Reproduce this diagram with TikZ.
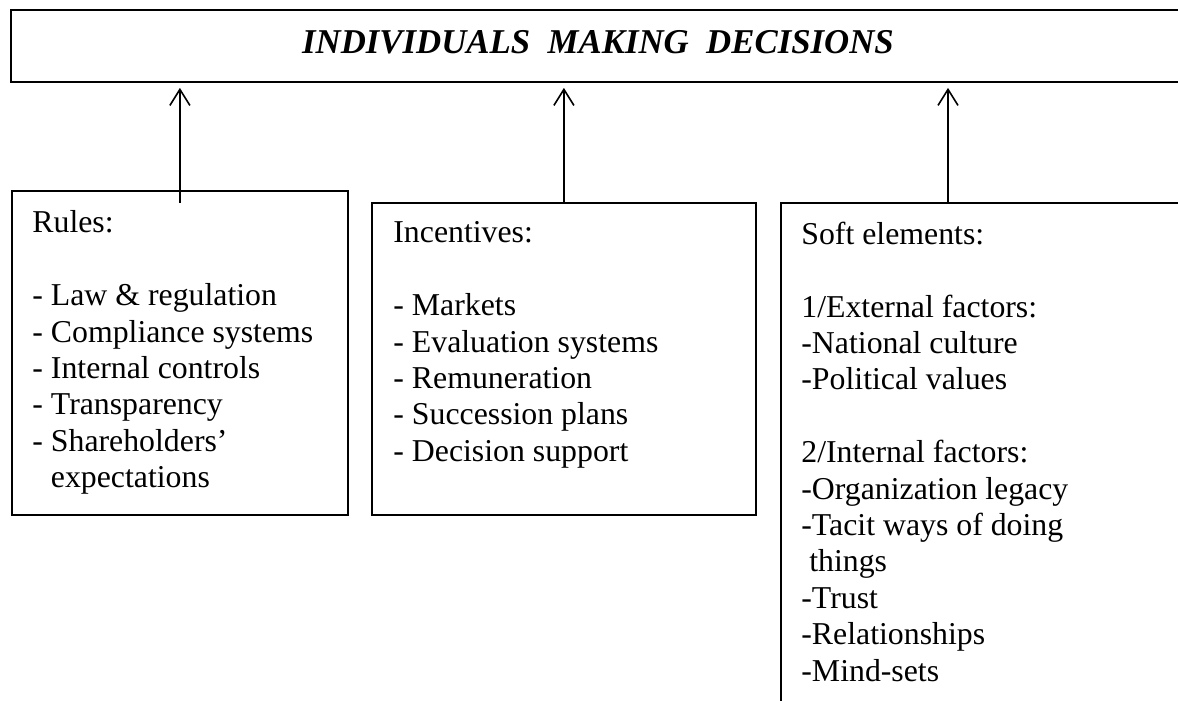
\documentclass[tikz,border=0pt]{standalone}
\usepackage{fontspec}
\setmainfont{Liberation Serif}
\usetikzlibrary{arrows.meta, positioning, calc}

\tikzset{
  frame/.style={draw, line width=0.9pt, inner sep=0pt},
  items/.style={align=left, inner sep=0pt, anchor=north west, font=\fontsize{15.9}{18.2}\selectfont},
  uparrow/.style={-{Straight Barb[length=8pt, width=10pt]}, line width=0.8pt, shorten >=2.5pt},
}

\begin{document}
\begin{tikzpicture}[x=0.5pt, y=-0.5pt]
  \useasboundingbox (0,0) rectangle (1178,701);
  \clip (0,0) rectangle (1178,701);

  % top box (runs past the right edge)
  \node[frame, minimum width=587pt, minimum height=36pt] (title) at (598,46) {};
  \node[anchor=base, inner sep=0pt, font=\fontsize{17.4}{20}\selectfont\bfseries\itshape] (headline) at (598,54) {INDIVIDUALS\ \ MAKING\ \ DECISIONS};

  % the three boxes below
  \node[frame, anchor=north west, minimum width=168pt, minimum height=162pt] (rules) at (11,190) {};
  \node[frame, anchor=north west, minimum width=192pt, minimum height=156pt] (incent) at (371,202) {};
  \node[frame, anchor=north west, minimum width=220pt, minimum height=260pt] (soft) at (780,202) {};

  % list texts, top of first line about 22px above its baseline
  \node[items] (rulestext) at (32,210.5) {Rules:\\[18.2pt]
    - Law \& regulation\\
    - Compliance systems\\
    - Internal controls\\
    - Transparency\\
    - Shareholders'\\
    \phantom{-}~expectations};

  \node[items] (incenttext) at (393,221.5) {Incentives:\\[18.2pt]
    - Markets\\
    - Evaluation systems\\
    - Remuneration\\
    - Succession plans\\
    - Decision support};

  \node[items] (softtext) at (801,221.5) {Soft elements:\\[18.2pt]
    1/External factors:\\
    -National culture\\
    -Political values\\[18.2pt]
    2/Internal factors:\\
    -Organization legacy\\
    -Tacit ways of doing\\
    \hspace*{0.25em}things\\
    -Trust\\
    -Relationships\\
    -Mind-sets};

  % arrows up into the top box
  \coordinate (softin) at (948,202);
  \draw[uparrow] ([yshift=-6.5pt]rules.north) -- (rules.north |- title.south);
  \draw[uparrow] (incent.north) -- (incent.north |- title.south);
  \draw[uparrow] (softin) -- (softin |- title.south);
\end{tikzpicture}
\end{document}
